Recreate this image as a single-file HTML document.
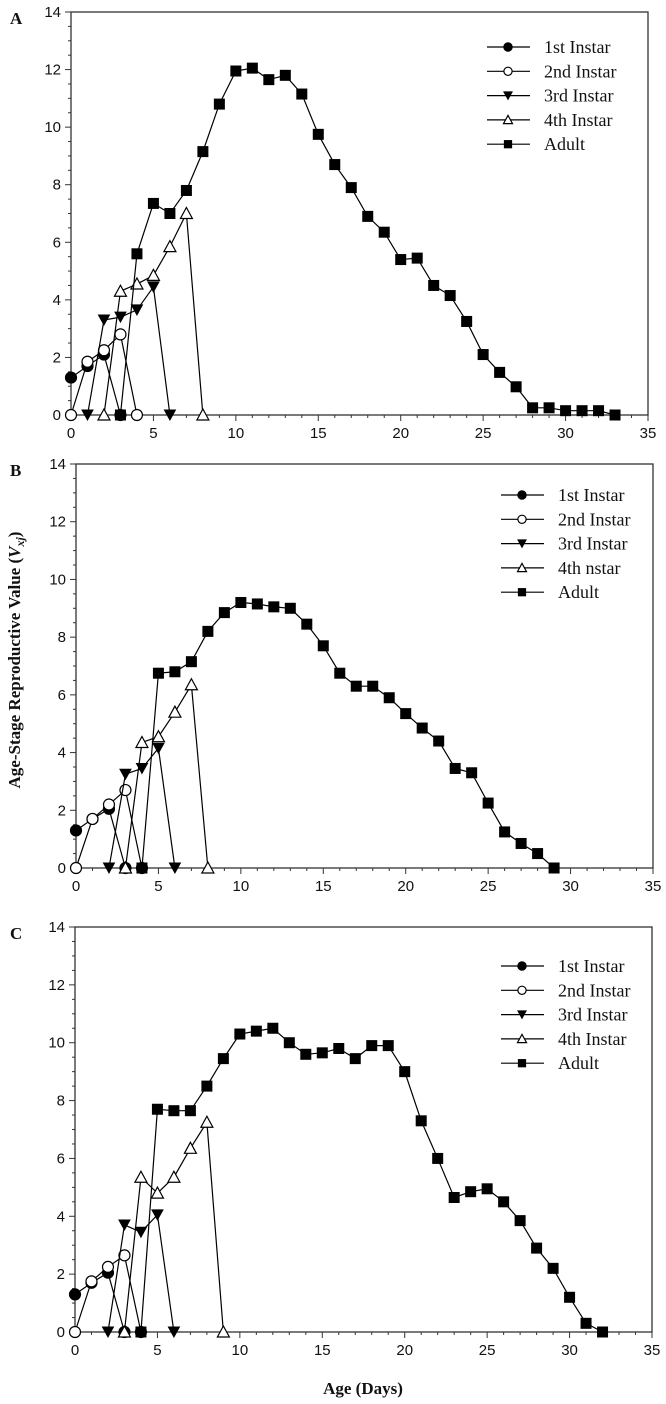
<!DOCTYPE html>
<html><head><meta charset="utf-8"><style>
body{margin:0;background:#fff}
svg{display:block}
.tick{font-family:"Liberation Sans",Arial,sans-serif;font-size:15px;fill:#111}
.leg{font-family:"Liberation Serif",serif;font-size:18px;fill:#111}
.ttl{font-family:"Liberation Serif",serif;font-size:17px;font-weight:bold;fill:#111}
</style></head><body>
<svg id="chart" width="666" height="1404" viewBox="0 0 666 1404" xmlns="http://www.w3.org/2000/svg">
<text class="ttl" x="363" y="1394" text-anchor="middle">Age (Days)</text>
<text class="ttl" transform="translate(20,660) rotate(-90)" text-anchor="middle">Age-Stage Reproductive Value (<tspan font-style="italic">V</tspan><tspan font-style="italic" font-size="12" dy="4">xj</tspan><tspan dy="-4">)</tspan></text>
</svg>
<script>
// Panel A data
const aFirstX=[0,1,2,3]; const aFirst=[1.3,1.7,2.1,0];
const aSecondX=[0,1,2,3,4]; const aSecond=[0,1.85,2.25,2.8,0];
const aThirdX=[1,2,3,4,5,6]; const aThird=[0,3.3,3.4,3.65,4.45,0];
const aFourthX=[2,3,4,5,6,7,8]; const aFourth=[0,4.3,4.55,4.85,5.85,7.0,0];
const aAdultX=[3,4,5,6,7,8,9,10,11,12,13,14,15,16,17,18,19,20,21,22,23,24,25,26,27,28,29,30,31,32,33];
const aAdult=[0,5.6,7.35,7.0,7.8,9.15,10.8,11.95,12.05,11.65,11.8,11.15,9.75,8.7,7.9,6.9,6.35,5.4,5.45,4.5,4.15,3.25,2.1,1.48,0.98,0.25,0.25,0.15,0.15,0.15,0];
// Panel B data
const bFirstX=[0,1,2,3]; const bFirst=[1.3,1.7,2.05,0];
const bSecondX=[0,1,2,3,4]; const bSecond=[0,1.7,2.2,2.7,0];
const bThirdX=[2,3,4,5,6]; const bThird=[0,3.25,3.45,4.15,0];
const bFourthX=[3,4,5,6,7,8]; const bFourth=[0,4.35,4.55,5.4,6.35,0];
const bAdultX=[4,5,6,7,8,9,10,11,12,13,14,15,16,17,18,19,20,21,22,23,24,25,26,27,28,29];
const bAdult=[0,6.75,6.8,7.15,8.2,8.85,9.2,9.15,9.05,9.0,8.45,7.7,6.75,6.3,6.3,5.9,5.35,4.85,4.4,3.45,3.3,2.25,1.25,0.85,0.5,0];
// Panel C data
const cFirstX=[0,1,2,3]; const cFirst=[1.3,1.7,2.05,0];
const cSecondX=[0,1,2,3,4]; const cSecond=[0,1.75,2.25,2.65,0];
const cThirdX=[2,3,4,5,6]; const cThird=[0,3.7,3.45,4.05,0];
const cFourthX=[3,4,5,6,7,8,9]; const cFourth=[0,5.35,4.8,5.35,6.35,7.25,0];
const cAdultX=[4,5,6,7,8,9,10,11,12,13,14,15,16,17,18,19,20,21,22,23,24,25,26,27,28,29,30,31,32];
const cAdult=[0,7.7,7.65,7.65,8.5,9.45,10.3,10.4,10.5,10.0,9.6,9.65,9.8,9.45,9.9,9.9,9.0,7.3,6.0,4.65,4.85,4.95,4.5,3.85,2.9,2.2,1.2,0.3,0];
const xTicks=[0,5,10,15,20,25,30,35];
const yTicks=[0,2,4,6,8,10,12,14];
const legendA=["1st Instar"," 2nd Instar","3rd Instar","4th Instar","Adult"];
const legendB=["1st Instar","2nd Instar","3rd Instar","4th nstar","Adult"];
const legendC=["1st Instar"," 2nd Instar","3rd Instar","4th Instar"," Adult"];

const NS="http://www.w3.org/2000/svg";
const svg=document.getElementById('chart');
function mk(tag,attrs,parent){const e=document.createElementNS(NS,tag);for(const k in attrs)e.setAttribute(k,attrs[k]);(parent||svg).appendChild(e);return e;}

function marker(g,kind,x,y,sc){
  const k=sc||1;let m;
  if(kind==='fc'||kind==='oc') m=mk('circle',{cx:x,cy:y,r:5.5*k,fill:kind==='fc'?'#000':'#fff',stroke:'#000','stroke-width':1.2},g);
  else if(kind==='dt') m=mk('polygon',{points:`${x-5.5*k},${y-5*k} ${x+5.5*k},${y-5*k} ${x},${y+5*k}`,fill:'#000',stroke:'#000','stroke-width':1},g);
  else if(kind==='ut') m=mk('polygon',{points:`${x-6*k},${y+5*k} ${x+6*k},${y+5*k} ${x},${y-6*k}`,fill:'#fff',stroke:'#000','stroke-width':1.2},g);
  else m=mk('rect',{x:x-5.5*k,y:y-5.5*k,width:11*k,height:11*k,fill:'#000'},g);
  return m;
}

function panel(letter,L,T,R,B,series,legend,legX,legY){
  const g=mk('g',{});
  
  
  const sx=v=>L+(R-L)*v/35, sy=v=>B-(B-T)*v/14;
  const frame=mk('rect',{x:L,y:T,width:R-L,height:B-T,fill:'none',stroke:'#333','stroke-width':1.3},g);
  
  
  for(let i=0;i<=35;i++){const len=i%5===0?6:3;mk('line',{x1:sx(i),x2:sx(i),y1:B,y2:B+len,stroke:'#333','stroke-width':1},g);}
  for(let i=0;i<=28;i++){const len=i%4===0?6:3;mk('line',{x1:L,x2:L-len,y1:sy(i/2),y2:sy(i/2),stroke:'#333','stroke-width':1},g);}
  xTicks.forEach(v=>{const t=mk('text',{class:'tick',x:sx(v),y:B+23,'text-anchor':'middle'},g);t.textContent=v;
    
    });
  yTicks.forEach(v=>{const t=mk('text',{class:'tick',x:L-10,y:sy(v)+5,'text-anchor':'end'},g);t.textContent=v;
    
    });
  const lt=mk('text',{class:'ttl',x:10,y:T+12},g);lt.textContent=letter;
  
  
  series.forEach(s=>{
    const sg=mk('g',{},g);
    
    
    const pts=s.x.map((xv,i)=>sx(xv)+','+sy(s.y[i])).join(' ');
    mk('polyline',{points:pts,fill:'none',stroke:'#000','stroke-width':1.2},sg);
    s.x.forEach((xv,i)=>{const m=marker(sg,s.kind,sx(xv),sy(s.y[i]));
      
      });
  });
  const lg=mk('g',{},g);
  
  
  series.forEach((s,i)=>{
    const y=legY+i*24.3;
    const e=mk('g',{},lg);
    
    
    mk('line',{x1:legX,x2:legX+43,y1:y,y2:y,stroke:'#000','stroke-width':1.2},e);
    marker(e,s.kind,legX+21,y,0.75);
    const t=mk('text',{class:'leg',x:legX+57,y:y+6},e);t.textContent=legend[i];
  });
}
function mkSeries(fx,f,sx2,s,tx,t,ux,u,ax,a){return [
  {name:'1st-instar',kind:'fc',x:fx,y:f},{name:'2nd-instar',kind:'oc',x:sx2,y:s},
  {name:'3rd-instar',kind:'dt',x:tx,y:t},{name:'4th-instar',kind:'ut',x:ux,y:u},{name:'adult',kind:'sq',x:ax,y:a}];}
panel('A',71,12,648,415,mkSeries(aFirstX,aFirst,aSecondX,aSecond,aThirdX,aThird,aFourthX,aFourth,aAdultX,aAdult),legendA,487,47);
panel('B',76,464,653,868,mkSeries(bFirstX,bFirst,bSecondX,bSecond,bThirdX,bThird,bFourthX,bFourth,bAdultX,bAdult),legendB,501,495);
panel('C',75,927,652,1332,mkSeries(cFirstX,cFirst,cSecondX,cSecond,cThirdX,cThird,cFourthX,cFourth,cAdultX,cAdult),legendC,501,966);
</script>
</body></html>
